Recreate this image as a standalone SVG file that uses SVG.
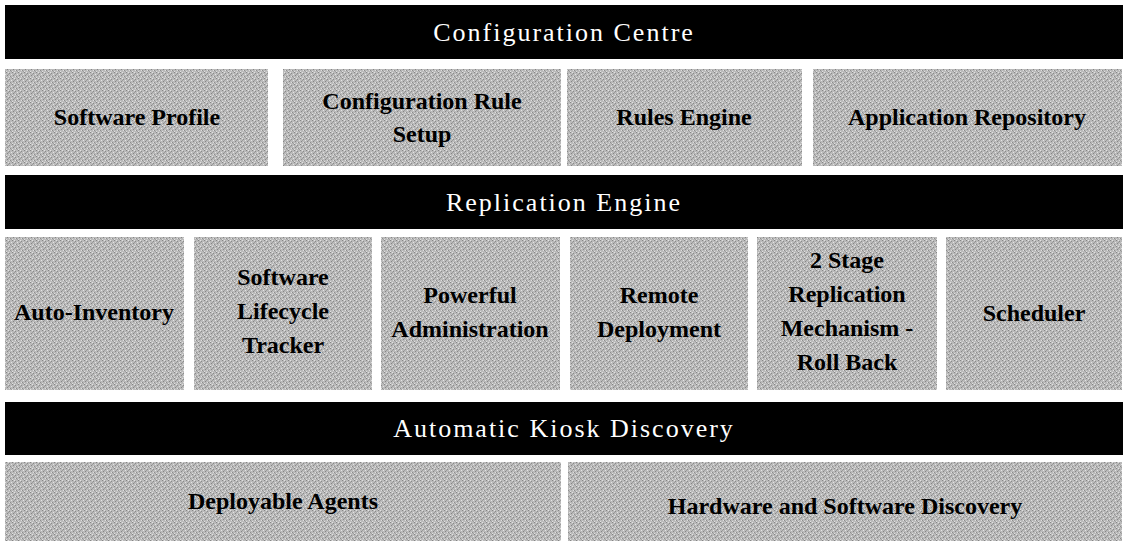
<svg xmlns="http://www.w3.org/2000/svg" width="1126" height="546" viewBox="0 0 1126 546">
<defs>
<pattern id="dither" width="6" height="6" patternUnits="userSpaceOnUse">
<rect width="6" height="6" fill="#bababa"/>
<rect x="0" y="0" width="1" height="1" fill="#858585"/>
<rect x="3" y="1" width="1" height="1" fill="#8b8b8b"/>
<rect x="1" y="3" width="1" height="1" fill="#878787"/>
<rect x="4" y="4" width="1" height="1" fill="#8d8d8d"/>
<rect x="2" y="0" width="1" height="1" fill="#e2e2e2"/>
<rect x="5" y="2" width="1" height="1" fill="#e4e4e4"/>
<rect x="0" y="5" width="1" height="1" fill="#e0e0e0"/>
<rect x="3" y="4" width="1" height="1" fill="#dedede"/>
<rect x="2" y="2" width="1" height="1" fill="#9c9c9c"/>
<rect x="5" y="5" width="1" height="1" fill="#a0a0a0"/>
</pattern>
</defs>
<style>
.bar{fill:#000}
.box{fill:url(#dither)}
.bt{font-family:"Liberation Serif","Times New Roman",serif;font-size:26px;fill:#fff;text-anchor:middle;letter-spacing:2px}
.nt{font-family:"Liberation Serif","Times New Roman",serif;font-size:24px;font-weight:bold;fill:#000;text-anchor:middle}
</style>
<rect width="1126" height="546" fill="#fff"/>
<g id="connectors"/>
<g id="configuration-centre"><rect class="bar" x="5" y="5" width="1118" height="54"/><text class="bt" x="564" y="41">Configuration Centre</text></g>
<g id="software-profile"><rect class="box" x="5" y="69" width="263" height="97"/><text class="nt" x="137" y="125">Software Profile</text></g>
<g id="configuration-rule-setup"><rect class="box" x="283" y="69" width="278" height="97"/><text class="nt" x="422" y="109">Configuration Rule</text><text class="nt" x="422" y="142">Setup</text></g>
<g id="rules-engine"><rect class="box" x="567" y="69" width="235" height="97"/><text class="nt" x="684" y="125">Rules Engine</text></g>
<g id="application-repository"><rect class="box" x="813" y="69" width="309" height="97"/><text class="nt" x="967" y="125">Application Repository</text></g>
<g id="replication-engine"><rect class="bar" x="5" y="175" width="1118" height="54"/><text class="bt" x="564" y="211">Replication Engine</text></g>
<g id="auto-inventory"><rect class="box" x="5" y="237" width="179" height="153"/><text class="nt" x="94" y="320">Auto-Inventory</text></g>
<g id="software-lifecycle-tracker"><rect class="box" x="194" y="237" width="178" height="153"/><text class="nt" x="283" y="285">Software</text><text class="nt" x="283" y="319">Lifecycle</text><text class="nt" x="283" y="353">Tracker</text></g>
<g id="powerful-administration"><rect class="box" x="381" y="237" width="179" height="153"/><text class="nt" x="470" y="303">Powerful</text><text class="nt" x="470" y="337">Administration</text></g>
<g id="remote-deployment"><rect class="box" x="570" y="237" width="178" height="153"/><text class="nt" x="659" y="303">Remote</text><text class="nt" x="659" y="337">Deployment</text></g>
<g id="two-stage-replication"><rect class="box" x="757" y="237" width="180" height="153"/><text class="nt" x="847" y="268">2 Stage</text><text class="nt" x="847" y="302">Replication</text><text class="nt" x="847" y="336">Mechanism -</text><text class="nt" x="847" y="370">Roll Back</text></g>
<g id="scheduler"><rect class="box" x="946" y="237" width="176" height="153"/><text class="nt" x="1034" y="321">Scheduler</text></g>
<g id="automatic-kiosk-discovery"><rect class="bar" x="5" y="402" width="1118" height="53"/><text class="bt" x="564" y="437">Automatic Kiosk Discovery</text></g>
<g id="deployable-agents"><rect class="box" x="5" y="462" width="556" height="79"/><text class="nt" x="283" y="509">Deployable Agents</text></g>
<g id="hardware-software-discovery"><rect class="box" x="568" y="462" width="554" height="79"/><text class="nt" x="845" y="514">Hardware and Software Discovery</text></g>
</svg>
